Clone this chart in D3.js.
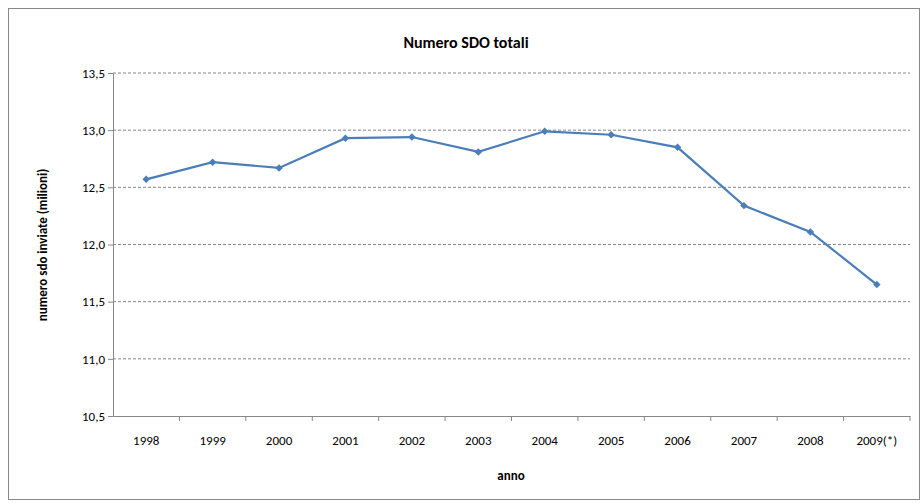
<!DOCTYPE html>
<html><head><meta charset="utf-8">
<script src="https://cdn.jsdelivr.net/npm/d3@7"></script>
<style>body{margin:0;background:#fff}text{font-family:Carlito,Calibri,"Liberation Sans",sans-serif}</style>
</head><body><svg id="c" width="921" height="504"></svg>
<script>
const years = ['1998','1999','2000','2001','2002','2003','2004','2005','2006','2007','2008','2009(*)'];
const values = [12.57, 12.72, 12.67, 12.93, 12.94, 12.81, 12.99, 12.96, 12.85, 12.34, 12.11, 11.65];
const yTicks = [10.5, 11.0, 11.5, 12.0, 12.5, 13.0, 13.5];

const svg = d3.select('#c');
const m = {l: 113, r: 910, t: 73, b: 416};
svg.append('rect').attr('x', 8.5).attr('y', 8.5).attr('width', 911).attr('height', 491)
  .attr('fill', '#fff').attr('stroke', '#888');

const x = d3.scaleBand().domain(years).range([m.l, m.r]);
const y = d3.scaleLinear().domain([10.5, 13.5]).range([m.b, m.t]);

svg.append('g').selectAll('line').data(yTicks.slice(1)).join('line')
  .attr('x1', m.l).attr('x2', m.r).attr('y1', d => y(d)).attr('y2', d => y(d))
  .attr('stroke', '#888').attr('stroke-dasharray', '3,2');

const ya = svg.append('g').attr('transform', `translate(${m.l},0)`)
  .call(d3.axisLeft(y).tickValues(yTicks).tickSize(5).tickFormat(d => d3.format('.1f')(d).replace('.', ',')));
const xa = svg.append('g').attr('transform', `translate(0,${m.b})`)
  .call(d3.axisBottom(x).tickSize(0).tickPadding(20));
xa.selectAll('.tick line').remove();
xa.append('g').selectAll('line').data(years.map((d, i) => m.l + x.step() * (i + 1))).join('line')
  .attr('x1', d => d).attr('x2', d => d).attr('y1', 0).attr('y2', 5).attr('stroke', '#888');
[ya, xa].forEach(a => {
  a.select('.domain').attr('stroke', '#888');
  a.selectAll('.tick line').attr('stroke', '#888');
  a.selectAll('text').attr('font-size', 13).attr('fill', '#000').attr('font-family', 'Carlito,"Liberation Sans",sans-serif');
});

const line = d3.line().x((d, i) => x(years[i]) + x.bandwidth() / 2).y(d => y(d));
svg.append('path').datum(values).attr('d', line).attr('fill', 'none')
  .attr('stroke', '#4a7ebb').attr('stroke-width', 2.2);
svg.append('g').selectAll('path').data(values).join('path')
  .attr('d', d3.symbol(d3.symbolSquare, 28))
  .attr('transform', (d, i) => `translate(${x(years[i]) + x.bandwidth() / 2},${y(d)}) rotate(45)`)
  .attr('fill', '#4a7ebb');

svg.append('text').attr('x', 466).attr('y', 48).attr('text-anchor', 'middle')
  .attr('font-weight', 'bold').attr('font-size', 16).text('Numero SDO totali');
svg.append('text').attr('x', 511).attr('y', 480).attr('text-anchor', 'middle')
  .attr('font-weight', 'bold').attr('font-size', 13).text('anno');
svg.append('text').attr('transform', 'translate(47,245) rotate(-90)').attr('text-anchor', 'middle')
  .attr('font-weight', 'bold').attr('font-size', 13).text('numero sdo inviate (milioni)');
</script></body></html>
